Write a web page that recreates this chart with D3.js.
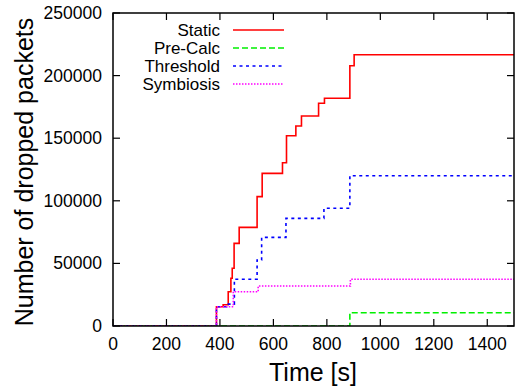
<!DOCTYPE html>
<html>
<head>
<meta charset="utf-8">
<script src="https://cdn.jsdelivr.net/npm/d3@7"></script>
<style>
  body { margin: 0; background: #fff; }
  text { font-family: "Liberation Sans", Arial, sans-serif; fill: #000; }
</style>
</head>
<body>
<svg id="main-vis" width="517" height="390"></svg>
<script>
var margin = ({top: 13, right: 3, bottom: 64, left: 113})
var width = 517;
var height = 390;

// step points [time, packets]
var staticData = [[0,0],[387,15400],[412,17000],[431,27400],[441,38100],[446,46100],[453,66000],[472,78800],
  [539,103300],[558,121900],[634,130400],[649,152000],[684,159700],[705,167700],[769,177900],[791,181900],
  [886,207900],[902,216700],[1500,216700]];
var precalcData = [[0,0],[886,10600],[1500,10600]];
var thresholdData = [[0,0],[387,15400],[425,17500],[454,37300],[539,52700],[556,70800],[647,86000],
  [789,94000],[886,120000],[1500,120000]];
var symbiosisData = [[0,0],[387,15400],[450,27400],[543,32000],[888,37300],[1500,37300]];

var seriesNames = ["Static", "Pre-Calc", "Threshold", "Symbiosis"];
var seriesColors = ["#ff0000", "#00f000", "#0000ff", "#ff00ff"];
var seriesDash = [null, "6,3", "3,3.5", "1.5,1.5"];
var xTicks = [0, 200, 400, 600, 800, 1000, 1200, 1400];
var yTicks = [0, 50000, 100000, 150000, 200000, 250000];

var allData = [staticData, precalcData, thresholdData, symbiosisData];

var svg = d3.select('#main-vis');

var x = d3.scaleLinear()
    .domain([0, 1500])
    .range([margin.left, width - margin.right]);
var y = d3.scaleLinear()
    .domain([0, 250000])
    .range([height - margin.bottom, margin.top]);

svg.append('clipPath').attr('id', 'clip')
  .append('rect')
    .attr('x', margin.left).attr('y', margin.top)
    .attr('width', width - margin.right - margin.left)
    .attr('height', height - margin.bottom - margin.top);

var line = d3.line()
    .x(d => x(d[0]))
    .y(d => y(d[1]))
    .curve(d3.curveStepAfter);

var lines = svg.append('g').attr('clip-path', 'url(#clip)');
allData.forEach(function(d, i){
  lines.append('path')
    .datum(d)
    .attr('fill', 'none')
    .attr('stroke', seriesColors[i])
    .attr('stroke-width', 1.6)
    .attr('stroke-dasharray', seriesDash[i])
    .attr('d', line);
});

// ticks (inward, mirrored like gnuplot)
var tl = 7;
var axes = svg.append('g').attr('stroke', '#000').attr('stroke-width', 1.2);
xTicks.forEach(function(t){
  axes.append('line').attr('x1', x(t)).attr('x2', x(t)).attr('y1', y(0)).attr('y2', y(0) - tl);
  axes.append('line').attr('x1', x(t)).attr('x2', x(t)).attr('y1', y(250000)).attr('y2', y(250000) + tl);
});
yTicks.forEach(function(t){
  axes.append('line').attr('x1', x(0)).attr('x2', x(0) + tl).attr('y1', y(t)).attr('y2', y(t));
  axes.append('line').attr('x1', x(1500)).attr('x2', x(1500) - tl).attr('y1', y(t)).attr('y2', y(t));
});

svg.append('rect')
  .attr('x', margin.left).attr('y', margin.top)
  .attr('width', width - margin.right - margin.left)
  .attr('height', height - margin.bottom - margin.top)
  .attr('fill', 'none')
  .attr('stroke', '#000')
  .attr('stroke-width', 1.5);

svg.selectAll('.xlab')
  .data(xTicks)
  .enter()
  .append('text')
    .attr('class', 'xlab')
    .attr('x', d => x(d))
    .attr('y', y(0) + 24)
    .attr('text-anchor', 'middle')
    .style('font-size', '17.5px')
    .text(d => d);

svg.selectAll('.ylab')
  .data(yTicks)
  .enter()
  .append('text')
    .attr('class', 'ylab')
    .attr('x', x(0) - 11)
    .attr('y', d => y(d) + 6)
    .attr('text-anchor', 'end')
    .style('font-size', '17.5px')
    .text(d => d);

svg.append('text')
  .attr('x', 313)
  .attr('y', 381)
  .attr('text-anchor', 'middle')
  .style('font-size', '25px')
  .text('Time [s]');

svg.append('text')
  .attr('transform', 'translate(33,172) rotate(-90)')
  .attr('text-anchor', 'middle')
  .style('font-size', '25px')
  .text('Number of dropped packets');

// legend
var legend = svg.append('g');
seriesNames.forEach(function(n, i){
  var ly = 30 + i * 18;
  legend.append('text')
    .attr('x', 220)
    .attr('y', ly + 6)
    .attr('text-anchor', 'end')
    .style('font-size', '17px')
    .text(n);
  legend.append('line')
    .attr('x1', 233).attr('x2', 284)
    .attr('y1', ly).attr('y2', ly)
    .attr('stroke', seriesColors[i])
    .attr('stroke-width', 1.6)
    .attr('stroke-dasharray', seriesDash[i]);
});
</script>
</body>
</html>
